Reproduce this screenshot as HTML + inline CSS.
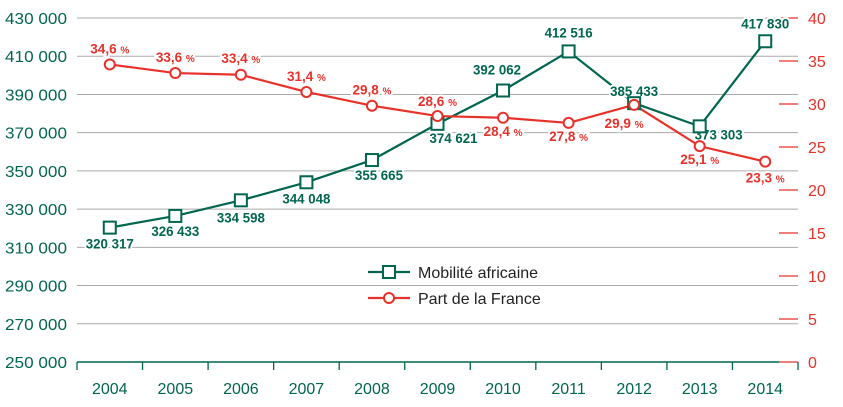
<!DOCTYPE html>
<html><head><meta charset="utf-8"><style>
html,body{margin:0;padding:0;background:#fff;}
svg{display:block;font-family:"Liberation Sans",sans-serif;}
</style></head><body>
<svg id="chart" width="843" height="407" viewBox="0 0 843 407"></svg>
<script>
const years=["2004","2005","2006","2007","2008","2009","2010","2011","2012","2013","2014"];
const mobility=[320317,326433,334598,344048,355665,374621,392062,412516,385433,373303,417830];
const mobilityLabels=["320 317","326 433","334 598","344 048","355 665","374 621","392 062","412 516","385 433","373 303","417 830"];
const share=[34.6,33.6,33.4,31.4,29.8,28.6,28.4,27.8,29.9,25.1,23.3];
const shareLabels=["34,6","33,6","33,4","31,4","29,8","28,6","28,4","27,8","29,9","25,1","23,3"];
const leftTicks=[250000,270000,290000,310000,330000,350000,370000,390000,410000,430000];
const leftTickLabels=["250 000","270 000","290 000","310 000","330 000","350 000","370 000","390 000","410 000","430 000"];
const rightTicks=[0,5,10,15,20,25,30,35,40];

const gLabelOff=[[0,21],[0,20],[0,22],[0,21],[7,20],[16,19],[-6,-16],[0,-14],[0,-7],[19,13],[0,-13]];
const rLabelOff=[[0,-11],[0,-11],[0,-12],[0,-11],[0,-11],[0,-10],[0,18],[0,18],[-10,23],[0,18],[0,21]];

const svg=document.getElementById('chart');
const NS="http://www.w3.org/2000/svg";
const X0=77,X1=798,Y0=362,Y1=18;
const band=(X1-X0)/years.length;
const xs=i=>X0+band*(i+0.5);
const yL=v=>Y0-(v-250000)*(Y0-Y1)/180000;
const yR=v=>Y0-v*(Y0-Y1)/40;
const GREEN="#00664f",RED="#e8312a";
function mk(tag,attrs,parent){const e=document.createElementNS(NS,tag);for(const k in attrs)e.setAttribute(k,attrs[k]);(parent||svg).appendChild(e);return e;}

leftTicks.forEach((t,i)=>{
  if(i>0){const l=mk('line',{x1:X0,x2:X1,y1:yL(t),y2:yL(t),stroke:"#aaa","stroke-width":1});
  
  }
  const tx=mk('text',{x:67,y:yL(t)+6,"text-anchor":"end","font-size":16,fill:GREEN,textLength:62,lengthAdjust:"spacingAndGlyphs"});
  tx.textContent=leftTickLabels[i];
  
  
});
rightTicks.forEach(t=>{
  const l=mk('line',{x1:779,x2:798,y1:yR(t),y2:yR(t),stroke:RED,"stroke-width":1.3});
  
  
  const tx=mk('text',{x:808,y:yR(t)+6,"font-size":16,fill:RED});
  tx.textContent=t;
  
  
});
const ax=mk('line',{x1:X0,x2:779,y1:Y0,y2:Y0,stroke:GREEN,"stroke-width":1.5});


for(let i=0;i<=years.length;i++){
  const x=X0+band*i;
  const t=mk('line',{x1:x,x2:x,y1:Y0,y2:Y0+8,stroke:GREEN,"stroke-width":1.3});
  
  
}
years.forEach((y,i)=>{
  const t=mk('text',{x:xs(i),y:394,"text-anchor":"middle","font-size":16,fill:GREEN});
  t.textContent=y;
  
  
});
const gp=mk('polyline',{points:mobility.map((v,i)=>xs(i)+","+yL(v)).join(" "),fill:"none",stroke:GREEN,"stroke-width":2.2});


const rp=mk('polyline',{points:share.map((v,i)=>xs(i)+","+yR(v)).join(" "),fill:"none",stroke:RED,"stroke-width":2.2});


mobility.forEach((v,i)=>{
  const t=mk('text',{x:xs(i)+gLabelOff[i][0],y:yL(v)+gLabelOff[i][1],"text-anchor":"middle","font-size":14,"font-weight":"bold",fill:GREEN,stroke:"#fff","stroke-width":4,"paint-order":"stroke",textLength:48,lengthAdjust:"spacingAndGlyphs"});
  t.textContent=mobilityLabels[i];
  
  
});
share.forEach((v,i)=>{
  const t=mk('text',{x:xs(i)+rLabelOff[i][0],y:yR(v)+rLabelOff[i][1],"text-anchor":"middle","font-size":13.5,"font-weight":"bold",fill:RED,stroke:"#fff","stroke-width":4,"paint-order":"stroke"});
  t.textContent=shareLabels[i]+" ";
  const s=mk('tspan',{"font-size":10},t);s.textContent="%";
  
  
});
mobility.forEach((v,i)=>{
  const r=mk('rect',{x:xs(i)-6,y:yL(v)-6,width:12,height:12,fill:"#fff",stroke:GREEN,"stroke-width":2});
  
  
});
share.forEach((v,i)=>{
  const c=mk('circle',{cx:xs(i),cy:yR(v),r:5,fill:"#fff",stroke:RED,"stroke-width":2});
  
  
});
const lg=mk('g',{});


mk('line',{x1:368,x2:410,y1:272,y2:272,stroke:GREEN,"stroke-width":2.2},lg);
mk('rect',{x:383,y:266,width:12,height:12,fill:"#fff",stroke:GREEN,"stroke-width":2},lg);
const lt1=mk('text',{x:418,y:278,"font-size":16,fill:"#222"},lg);lt1.textContent="Mobilité africaine";


mk('line',{x1:368,x2:410,y1:298,y2:298,stroke:RED,"stroke-width":2.2},lg);
mk('circle',{cx:389,cy:298,r:5,fill:"#fff",stroke:RED,"stroke-width":2},lg);
const lt2=mk('text',{x:418,y:304,"font-size":16,fill:"#222"},lg);lt2.textContent="Part de la France";


</script>
</body></html>
